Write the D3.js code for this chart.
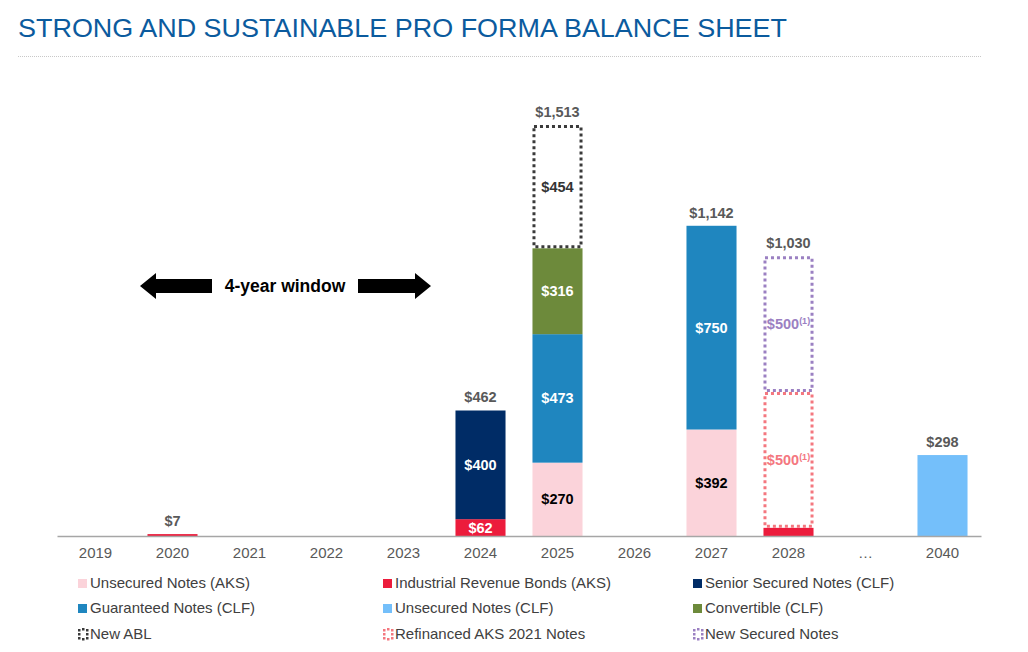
<!DOCTYPE html>
<html><head><meta charset="utf-8">
<script src="https://cdn.jsdelivr.net/npm/d3@7"></script>
<style>body{margin:0;background:#fff;font-family:"Liberation Sans",Arial,sans-serif;}</style>
</head><body><svg id="c" width="1028" height="652"></svg>
<script>
const years = ["2019","2020","2021","2022","2023","2024","2025","2026","2027","2028","…","2040"];
const unsecuredAKS   = [0,0,0,0,0,0,270,0,392,0,0,0];
const irbAKS         = [0,7,0,0,0,62,0,0,0,30,0,0];
const seniorCLF      = [0,0,0,0,0,400,0,0,0,0,0,0];
const guaranteedCLF  = [0,0,0,0,0,0,473,0,750,0,0,0];
const unsecuredCLF   = [0,0,0,0,0,0,0,0,0,0,0,298];
const convertibleCLF = [0,0,0,0,0,0,316,0,0,0,0,0];
const newABL         = [0,0,0,0,0,0,454,0,0,0,0,0];
const refinancedAKS  = [0,0,0,0,0,0,0,0,0,500,0,0];
const newSecured     = [0,0,0,0,0,0,0,0,0,500,0,0];
const seriesNames = ["Unsecured Notes (AKS)","Industrial Revenue Bonds (AKS)","Senior Secured Notes (CLF)","Guaranteed Notes (CLF)","Unsecured Notes (CLF)","Convertible (CLF)","New ABL","Refinanced AKS 2021 Notes","New Secured Notes"];
const seriesValues = [unsecuredAKS,irbAKS,seniorCLF,guaranteedCLF,unsecuredCLF,convertibleCLF,newABL,refinancedAKS,newSecured];
const footnoteSeries = [false,false,false,false,false,false,false,true,true];
const windowLabel = "4-year window";

const styles = [
  {fill:"#fbd3da", text:"#000", dotted:false},
  {fill:"#ec1c3c", text:"#fff", dotted:false},
  {fill:"#002c66", text:"#fff", dotted:false},
  {fill:"#1f86bf", text:"#fff", dotted:false},
  {fill:"#74bffa", text:"#fff", dotted:false},
  {fill:"#6d8a3b", text:"#fff", dotted:false},
  {stroke:"#3a3a3a", text:"#333", dotted:true},
  {stroke:"#f4777f", text:"#f4777f", dotted:true},
  {stroke:"#9b80c2", text:"#9b80c2", dotted:true}
];

const svg = d3.select("#c");
svg.append("text").attr("x",18).attr("y",37).attr("fill","#0b5b9e")
  .attr("font-size",26).attr("font-family","Liberation Sans, Arial, sans-serif")
  .attr("textLength",769).attr("lengthAdjust","spacingAndGlyphs")
  .text("STRONG AND SUSTAINABLE PRO FORMA BALANCE SHEET");
svg.append("line").attr("x1",18).attr("x2",981).attr("y1",56.5).attr("y2",56.5)
  .attr("stroke","#c8c8c8").attr("stroke-width",1).attr("stroke-dasharray","1,1");

const x = d3.scaleBand().domain(years).range([57,981]).paddingInner(0.35).paddingOuter(0.175);
const y = d3.scaleLinear().domain([0,1513]).range([536,125]);

const table = years.map((yr,i)=>{const o={year:yr}; seriesNames.forEach((n,k)=>o[n]=seriesValues[k][i]); return o;});
const stacked = d3.stack().keys(seriesNames)(table);
const totals = years.map((yr,i)=>d3.sum(seriesValues,s=>s[i]));

const g = svg.append("g");
stacked.forEach((layer,k)=>{
  const st = styles[k];
  layer.forEach((d,i)=>{
    const v = d[1]-d[0];
    if(v<=0) return;
    const x0 = x(years[i]), w = x.bandwidth();
    const yt = y(d[1]), yb = y(d[0]);
    if(st.dotted){
      g.append("rect").attr("x",x0+1.5).attr("y",yt+1.5).attr("width",w-3).attr("height",yb-yt-3)
        .attr("fill","none").attr("stroke",st.stroke).attr("stroke-width",3).attr("stroke-dasharray","3,3");
    } else {
      g.append("rect").attr("x",x0).attr("y",yt).attr("width",w).attr("height",Math.max(yb-yt,1.5)).attr("fill",st.fill);
    }
    if(v>=50 && v<totals[i]){
      const t = g.append("text").attr("x",x0+w/2).attr("y",(yt+yb)/2+5).attr("text-anchor","middle")
        .attr("font-size",14.5).attr("font-weight","bold").attr("fill",st.text);
      t.append("tspan").text("$"+d3.format(",")(v));
      if(footnoteSeries[k]) t.append("tspan").attr("font-size",9).attr("dy",-5).text("(1)");
    }
  });
});

years.forEach((yr,i)=>{
  const tot = totals[i];
  if(tot<=0) return;
  g.append("text").attr("x",x(yr)+x.bandwidth()/2).attr("y",y(tot)-8).attr("text-anchor","middle")
    .attr("font-size",14.5).attr("font-weight","bold").attr("fill","#595959").text("$"+d3.format(",")(tot));
});

const ax = svg.append("g").attr("transform","translate(0,536)").call(d3.axisBottom(x).tickSize(0).tickPadding(11));
ax.select(".domain").attr("stroke","#a6a6a6").attr("stroke-width",1.5);
ax.selectAll("text").attr("font-size",15).attr("fill","#595959").attr("font-family","Liberation Sans, Arial, sans-serif");

// 4-year window arrows
const ay = 286;
function arrow(xs, xe, dir){
  const head = 16;
  let p;
  if(dir<0){ p=[[xs,ay],[xs+head,ay-13],[xs+head,ay-7],[xe,ay-7],[xe,ay+7],[xs+head,ay+7],[xs+head,ay+13]]; }
  else { p=[[xe,ay],[xe-head,ay-13],[xe-head,ay-7],[xs,ay-7],[xs,ay+7],[xe-head,ay+7],[xe-head,ay+13]]; }
  svg.append("polygon").attr("points",p.map(q=>q.join(",")).join(" ")).attr("fill","#000");
}
arrow(140,212,-1);
arrow(358,431,1);
svg.append("text").attr("x",285).attr("y",292).attr("text-anchor","middle").attr("font-size",17.5)
  .attr("font-weight","bold").attr("fill","#000").text(windowLabel);

// legend
const legCols = [78,383,693], legRows = [583,608,634];
seriesNames.forEach((n,k)=>{
  const lx = legCols[k%3], ly = legRows[Math.floor(k/3)];
  const st = styles[k];
  const lg = svg.append("g");
  if(st.dotted){
    const pts = [[0,0],[4,-1],[8,0],[0,4],[8,4],[0,8],[4,9],[8,8]];
    pts.forEach(p=>lg.append("rect").attr("x",lx+p[0]).attr("y",ly-5+p[1]).attr("width",2.5).attr("height",2.5).attr("fill",st.stroke));
  } else {
    lg.append("rect").attr("x",lx).attr("y",ly-4).attr("width",9).attr("height",9).attr("fill",st.fill);
  }
  lg.append("text").attr("x",lx+12).attr("y",ly+5).attr("font-size",15).attr("fill","#404040").text(n);
});
</script>
</body></html>
